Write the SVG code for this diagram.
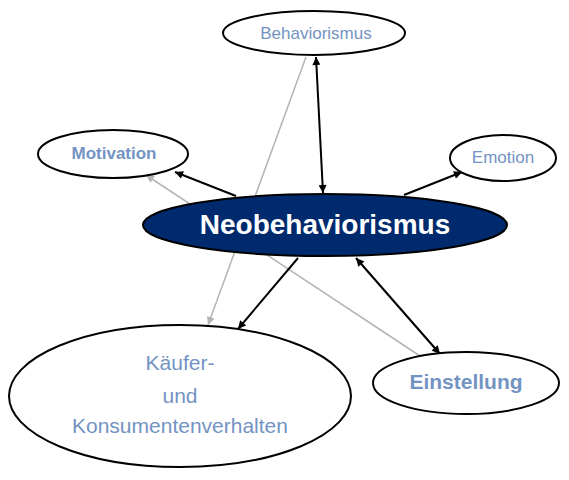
<svg xmlns="http://www.w3.org/2000/svg" width="569" height="480" viewBox="0 0 569 480">
<style>
.n{fill:#fff;stroke:#000;stroke-width:2}
.t{font-family:"Liberation Sans",Arial,sans-serif;fill:#7393c2;text-anchor:middle}
.b{font-weight:bold}
.e{stroke:#000;stroke-width:2;fill:none}
.g{stroke:#b4b4b4;stroke-width:1.5;fill:none}
</style>
<defs>
<marker id="ab" viewBox="0 0 10 10" refX="10" refY="5" markerWidth="9" markerHeight="8" markerUnits="userSpaceOnUse" orient="auto-start-reverse"><path d="M0,0L10,5L0,10z" fill="#000"/></marker>
<marker id="ag" viewBox="0 0 10 10" refX="10" refY="5" markerWidth="9" markerHeight="8" markerUnits="userSpaceOnUse" orient="auto"><path d="M0,0L10,5L0,10z" fill="#b4b4b4"/></marker>
</defs>
<g id="connectors">
<line class="g" x1="306" y1="57" x2="208" y2="325" marker-end="url(#ag)"/>
<line class="g" x1="420" y1="356" x2="146" y2="175" marker-end="url(#ag)"/>
<line class="e" x1="316" y1="57" x2="323" y2="193" marker-start="url(#ab)" marker-end="url(#ab)"/>
<line class="e" x1="236" y1="196" x2="175" y2="172" marker-end="url(#ab)"/>
<line class="e" x1="404" y1="195" x2="462" y2="172" marker-end="url(#ab)"/>
<line class="e" x1="298" y1="258" x2="238" y2="329" marker-end="url(#ab)"/>
<line class="e" x1="356" y1="258" x2="440" y2="354" marker-start="url(#ab)" marker-end="url(#ab)"/>
</g>
<g id="behaviorismus"><ellipse class="n" cx="314" cy="33" rx="91" ry="22"/><text class="t" x="316" y="39" font-size="17">Behaviorismus</text></g>
<g id="motivation"><ellipse class="n" cx="113" cy="154" rx="75" ry="24"/><text class="t b" x="114" y="159" font-size="17">Motivation</text></g>
<g id="emotion"><ellipse class="n" cx="503" cy="158" rx="53" ry="23"/><text class="t" x="503" y="163" font-size="17">Emotion</text></g>
<g id="neobehaviorismus"><ellipse cx="325" cy="225" rx="182" ry="31" fill="#002a6e" stroke="#000" stroke-width="2"/><text class="t b" x="325" y="234" font-size="28" style="fill:#fff">Neobehaviorismus</text></g>
<g id="kaeufer"><ellipse class="n" cx="180" cy="396" rx="171" ry="71"/><text class="t" x="180" y="370" font-size="21">Käufer-</text><text class="t" x="180" y="403" font-size="21">und</text><text class="t" x="180" y="433" font-size="21">Konsumentenverhalten</text></g>
<g id="einstellung"><ellipse class="n" cx="466" cy="383" rx="93" ry="31"/><text class="t b" x="466" y="389" font-size="21">Einstellung</text></g>
</svg>
